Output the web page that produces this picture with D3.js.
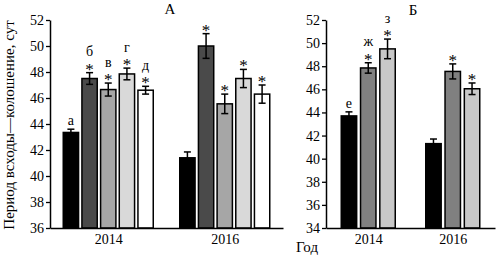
<!DOCTYPE html>
<html><head><meta charset="utf-8">
<script src="https://cdn.jsdelivr.net/npm/d3@7"></script>
<style>body{margin:0;background:#fff}svg{display:block}text{font-family:"Liberation Serif","Times New Roman",serif;fill:#000}</style>
</head><body>
<script>
const years = ["2014", "2016"];
// Panel А
const seriesA = ["s1", "s2", "s3", "s4", "s5"];
const colorsA = ["#000000", "#4a4a4a", "#a6a6a6", "#d9d9d9", "#ffffff"];
const valuesA = [[43.35, 47.5, 46.65, 47.85, 46.6], [41.4, 50.0, 45.55, 47.5, 46.3]];
const errorsA = [[0.25, 0.45, 0.5, 0.45, 0.3], [0.45, 0.95, 0.75, 0.7, 0.7]];
const lettersA = [["а", "б", "в", "г", "д"], ["", "", "", "", ""]];
const starsA = [[false, true, true, true, true], [false, true, true, true, true]];
const ticksA = [36, 38, 40, 42, 44, 46, 48, 50, 52];
// Panel Б
const seriesB = ["s1", "s2", "s3"];
const colorsB = ["#000000", "#808080", "#c8c8c8"];
const valuesB = [[43.7, 47.85, 49.5], [41.3, 47.55, 46.05]];
const errorsB = [[0.35, 0.45, 0.85], [0.4, 0.65, 0.5]];
const lettersB = [["е", "ж", "з"], ["", "", ""]];
const starsB = [[false, true, true], [false, true, true]];
const ticksB = [34, 36, 38, 40, 42, 44, 46, 48, 50, 52];

const svg = d3.select("body").append("svg").attr("width", 500).attr("height", 261);

function panel(cfg) {
  const y = d3.scaleLinear().domain(cfg.domain).range([228, 20]);
  const x = d3.scalePoint().domain(years).range([cfg.x0, cfg.x1]).padding(0.5);
  const groupW = cfg.groupW;
  const xs = d3.scaleBand().domain(cfg.series).range([-groupW / 2, groupW / 2]).paddingInner(cfg.pin);
  const g = svg.append("g");
  years.forEach((yr, gi) => {
    cfg.series.forEach((s, i) => {
      const v = cfg.values[gi][i], e = cfg.errors[gi][i];
      const bx = x(yr) + xs(s), bw = xs.bandwidth();
      g.append("rect").attr("x", bx).attr("y", y(v)).attr("width", bw)
        .attr("height", y(cfg.domain[0]) - y(v)).attr("fill", cfg.colors[i])
        .attr("stroke", "#000").attr("stroke-width", 1.5);
      const cx = bx + bw / 2;
      g.append("line").attr("x1", cx).attr("x2", cx).attr("y1", y(v + e)).attr("y2", y(v - e))
        .attr("stroke", "#000").attr("stroke-width", 1.5);
      [v + e, v - e].forEach(t => g.append("line").attr("x1", cx - 3.5).attr("x2", cx + 3.5)
        .attr("y1", y(t)).attr("y2", y(t)).attr("stroke", "#000").attr("stroke-width", 1.5));
      const cap = y(v + e);
      const letter = cfg.letters[gi][i];
      if (cfg.stars[gi][i]) {
        g.append("text").attr("x", cx).attr("y", cap + 2).attr("text-anchor", "middle")
          .attr("font-size", 17).text("*");
        if (letter) {
          g.append("text").attr("x", cx).attr("y", cap - 16.5).attr("text-anchor", "middle")
            .attr("font-size", 14).text(letter);
        }
      } else if (letter) {
        g.append("text").attr("x", cx).attr("y", cap - 4).attr("text-anchor", "middle")
          .attr("font-size", 14).text(letter);
      }
    });
  });
  const ya = g.append("g").attr("transform", `translate(${cfg.x0},0)`)
    .call(d3.axisLeft(y).tickValues(cfg.ticks).tickSize(4).tickSizeOuter(0).tickPadding(2));
  ya.selectAll("text").attr("font-size", 14).attr("font-family", "Liberation Serif");
  ya.select(".domain").attr("stroke-width", 1.5);
  ya.selectAll(".tick line").attr("stroke-width", 1.3);
  const xa = g.append("g").attr("transform", `translate(0,228)`)
    .call(d3.axisBottom(x).tickSize(0).tickPadding(6));
  xa.selectAll("text").attr("font-size", 14).attr("font-family", "Liberation Serif");
  xa.select(".domain").attr("stroke-width", 1.5);
  g.append("text").attr("x", cfg.titleX).attr("y", cfg.titleY).attr("text-anchor", "middle")
    .attr("font-size", 15).text(cfg.title);
}

panel({domain: [36, 52], x0: 50, x1: 283, groupW: 90, pin: 0.18, series: seriesA,
  colors: colorsA, values: valuesA, errors: errorsA, letters: lettersA, stars: starsA,
  ticks: ticksA, title: "А", titleX: 170, titleY: 14});
panel({domain: [34, 52], x0: 326, x1: 495, groupW: 54, pin: 0.2, series: seriesB,
  colors: colorsB, values: valuesB, errors: errorsB, letters: lettersB, stars: starsB,
  ticks: ticksB, title: "Б", titleX: 413, titleY: 15});

svg.append("text").attr("transform", "translate(14,125) rotate(-90)").attr("text-anchor", "middle")
  .attr("font-size", 15).text("Период всходы—колошение, сут");
svg.append("text").attr("x", 307).attr("y", 252).attr("text-anchor", "middle")
  .attr("font-size", 15).text("Год");
</script>
</body></html>
